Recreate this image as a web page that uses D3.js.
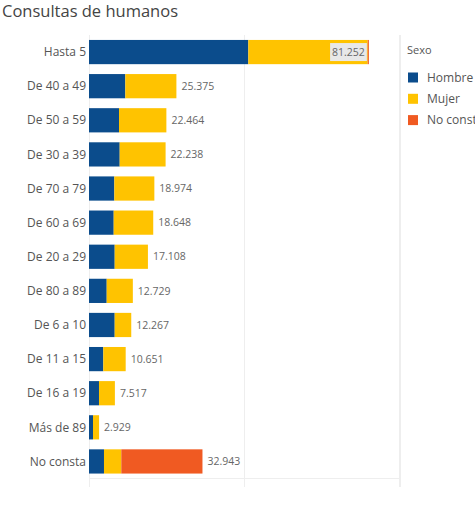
<!DOCTYPE html>
<html><head><meta charset="utf-8">
<script src="https://cdn.jsdelivr.net/npm/d3@7"></script>
<style>body{margin:0;background:#fff;overflow:hidden}svg{display:block}</style>
</head><body>
<script>
const categories = ["Hasta 5","De 40 a 49","De 50 a 59","De 30 a 39","De 70 a 79","De 60 a 69","De 20 a 29","De 80 a 89","De 6 a 10","De 11 a 15","De 16 a 19","Más de 89","No consta"];
const totals = [81252,25375,22464,22238,18974,18648,17108,12729,12267,10651,7517,2929,32943];
const hombre = [46250,10540,8710,8910,7350,7170,7460,5140,7460,4150,2900,1160,4350];
const noConsta = [340,0,0,0,0,0,0,0,0,0,0,0,23563];
const mujer = totals.map((t,i)=>t-hombre[i]-noConsta[i]);
const seriesNames = ["Hombre","Mujer","No consta"];
const colors = ["#0b4c8c","#ffc300","#f05a22"];
const tickValues = [0,45000,90000];

const W=475,H=512;
const svg=d3.select("body").append("svg").attr("width",W).attr("height",H);
const font="'Open Sans', sans-serif";
const x=d3.scaleLinear().domain([0,90000]).range([89,399]);
const y=d3.scaleBand().domain(categories).range([35,478.5]).paddingInner(0.29).paddingOuter(0.145);

svg.append("text").attr("x",2).attr("y",17).text("Consultas de humanos")
  .attr("font-family",font).attr("font-size",16).attr("fill","#444")
  .attr("textLength",176).attr("lengthAdjust","spacingAndGlyphs");

// gridlines
svg.append("g").selectAll("line").data(tickValues).join("line")
  .attr("x1",d=>x(d)+0.5).attr("x2",d=>x(d)+0.5).attr("y1",35).attr("y2",487)
  .attr("stroke","#eeeeee").attr("stroke-width",1);
svg.append("line").attr("x1",89).attr("x2",400).attr("y1",478.5).attr("y2",478.5)
  .attr("stroke","#eeeeee");

const rows=categories.map((c,i)=>({c,vals:[hombre[i],mujer[i],noConsta[i]],total:totals[i]}));
const stack=d3.stack().keys([0,1,2]).value((d,k)=>d.vals[k]);
const stacked=stack(rows);
svg.append("g").selectAll("g").data(stacked).join("g").attr("fill",(d,i)=>colors[i])
  .selectAll("rect").data(d=>d).join("rect")
  .attr("x",d=>x(d[0])).attr("width",d=>Math.max(0,x(d[1])-x(d[0])))
  .attr("y",d=>y(d.data.c)).attr("height",y.bandwidth());

// category labels
svg.append("g").selectAll("text").data(categories).join("text")
  .attr("x",86).attr("y",d=>y(d)+y.bandwidth()/2).attr("dy","0.35em")
  .attr("text-anchor","end").attr("font-family",font).attr("font-size",12).attr("fill","#555")
  .text(d=>d);

const fmt=v=>d3.format(",")(v).replace(/,/g,".");
rows.forEach((r,i)=>{
  const cy=y(r.c)+y.bandwidth()/2;
  const xe=x(r.total);
  if(i===0){
    const g=svg.append("g");
    const t=g.append("text").attr("x",xe-4).attr("y",cy).attr("dy","0.35em").attr("text-anchor","end")
      .attr("font-family",font).attr("font-size",10.5).attr("fill","#666").text(fmt(r.total));
    const bb=t.node().getBBox();
    g.insert("rect","text").attr("x",bb.x-2).attr("y",cy-9).attr("width",bb.width+4).attr("height",18).attr("fill","#e8e8e8");
  } else {
    svg.append("text").attr("x",xe+5).attr("y",cy).attr("dy","0.35em")
      .attr("font-family",font).attr("font-size",10.5).attr("fill","#666").text(fmt(r.total));
  }
});

// legend
svg.append("line").attr("x1",400.5).attr("x2",400.5).attr("y1",35).attr("y2",487).attr("stroke","#eeeeee");
svg.append("text").attr("x",407).attr("y",54).text("Sexo").attr("font-family",font).attr("font-size",11).attr("fill","#555");
const lg=svg.append("g").selectAll("g").data(seriesNames).join("g")
  .attr("transform",(d,i)=>`translate(408,${77.5+i*21.3})`);
lg.append("rect").attr("x",0).attr("y",-5).attr("width",10).attr("height",10).attr("fill",(d,i)=>colors[i]);
lg.append("text").attr("x",19).attr("y",0).attr("dy","0.35em").attr("font-family",font).attr("font-size",12).attr("fill","#555").text(d=>d);
</script>
</body></html>
